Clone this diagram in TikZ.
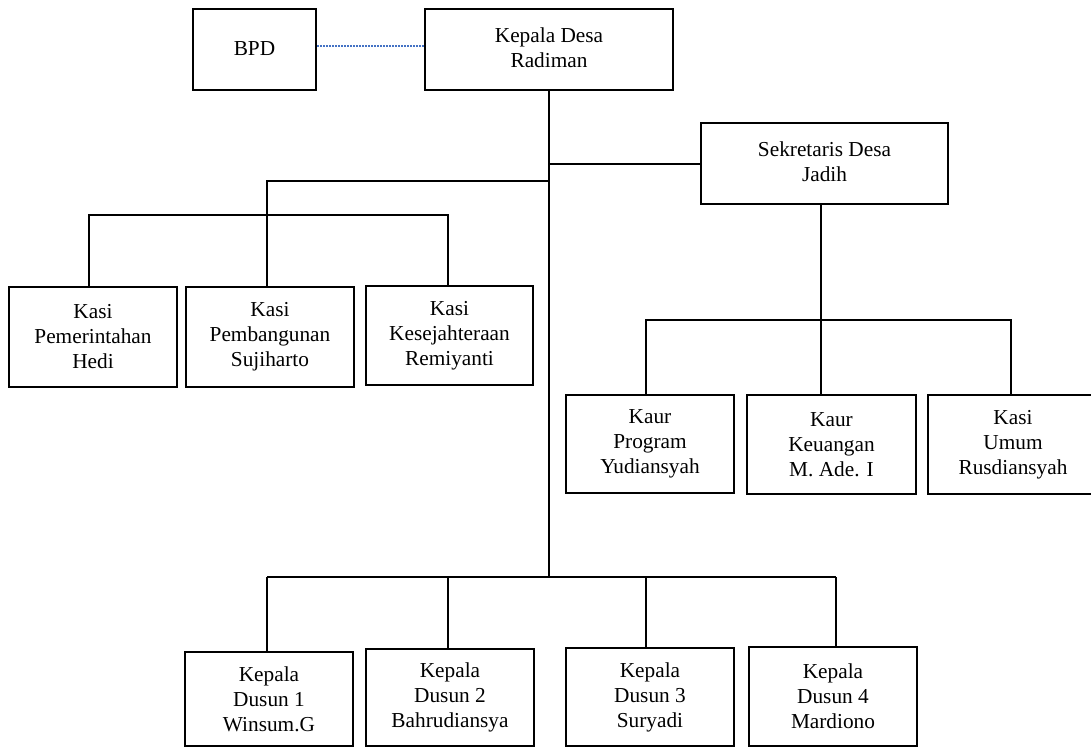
\documentclass[tikz,border=0pt]{standalone}
\usepackage{fontspec}
\setmainfont{Liberation Serif}
\definecolor{dotblue}{RGB}{68,114,196}
\newcommand{\uptext}[1]{\raisebox{4pt}{\begin{tabular}{@{}c@{}}#1\end{tabular}}}
\begin{document}
\begin{tikzpicture}[x=1pt,y=-1pt,
  box/.style={draw=black, line width=2.6pt, rectangle, inner sep=0pt, align=center,
    font=\fontsize{21.3pt}{25pt}\selectfont},
  link/.style={draw=black, line width=1.8pt},
  dotline/.style={draw=dotblue, line width=1.6pt, dash pattern=on 1.5pt off 1.5pt}]
\useasboundingbox (0,0) rectangle (1091,748);

% top level
\node[box, minimum width=123pt, minimum height=81pt] (BPD) at (254.5,49.5) {\raisebox{1.5pt}{BPD}};
\node[box, minimum width=248pt, minimum height=81pt] (KD) at (549,49.5) {\uptext{Kepala Desa\\Radiman}};
\node[box, minimum width=247pt, minimum height=81pt] (SEK) at (824.5,163.5) {\uptext{Sekretaris Desa\\Jadih}};

% Kasi (left)
\node[box, minimum width=168pt, minimum height=100pt] (KP) at (93,337) {Kasi\\Pemerintahan\\Hedi};
\node[box, minimum width=168pt, minimum height=100pt] (KB) at (270,337) {Kasi\\Pembangunan\\Sujiharto};
\node[box, minimum width=167pt, minimum height=99pt] (KK) at (449.5,335.5) {Kasi\\Kesejahteraan\\Remiyanti};

% Kaur (right)
\node[box, minimum width=168pt, minimum height=98pt] (KPR) at (650,444) {Kaur\\Program\\Yudiansyah};
\node[box, minimum width=169pt, minimum height=99pt] (KKU) at (831.5,444.5) {Kaur\\Keuangan\\M. Ade. I};
\node[box, minimum width=170pt, minimum height=99pt] (KUM) at (1013,444.5) {Kasi\\Umum\\Rusdiansyah};

% Dusun
\node[box, minimum width=168pt, minimum height=94pt] (D1) at (269,699) {Kepala\\Dusun 1\\Winsum.G};
\node[box, minimum width=168pt, minimum height=97pt] (D2) at (450,697.5) {Kepala\\Dusun 2\\Bahrudiansya};
\node[box, minimum width=168pt, minimum height=98pt] (D3) at (650,697) {Kepala\\Dusun 3\\Suryadi};
\node[box, minimum width=168pt, minimum height=99pt] (D4) at (833,696.5) {Kepala\\Dusun 4\\Mardiono};

% helper coordinates
\coordinate (dotY) at (0,46);
\coordinate (sY) at (0,164);
\coordinate (trunkEnd) at (549,577);
\coordinate (kTop) at (267,181);
\coordinate (kL) at (89,215);
\coordinate (kR) at (448,215);
\coordinate (sV) at (821,320);
\coordinate (rL) at (646,320);
\coordinate (rR) at (1011,320);
\coordinate (b1) at (267,577);
\coordinate (b2) at (448,577);
\coordinate (b3) at (646,577);
\coordinate (b4) at (836,577);

% BPD dotted link
\draw[dotline] (BPD.east |- dotY) -- (KD.west |- dotY);

% trunk
\draw[link] (KD.south) -- (trunkEnd);
% to Sekretaris
\draw[link] (KD.south |- sY) -- (SEK.west |- sY);
% to Kasi group
\draw[link] (KD.south |- kTop) -- (kTop) -- (kTop |- KB.north);
\draw[link] (kL |- KP.north) -- (kL) -- (kR) -- (kR |- KK.north);

% Sekretaris to Kaur group
\draw[link] (sV |- SEK.south) -- (sV |- KKU.north);
\draw[link] (rL |- KPR.north) -- (rL) -- (rR) -- (rR |- KUM.north);

% Dusun group
\draw[link] (b1) -- (b4);
\draw[link] (b1) -- (b1 |- D1.north);
\draw[link] (b2) -- (b2 |- D2.north);
\draw[link] (b3) -- (b3 |- D3.north);
\draw[link] (b4) -- (b4 |- D4.north);
\end{tikzpicture}
\end{document}
